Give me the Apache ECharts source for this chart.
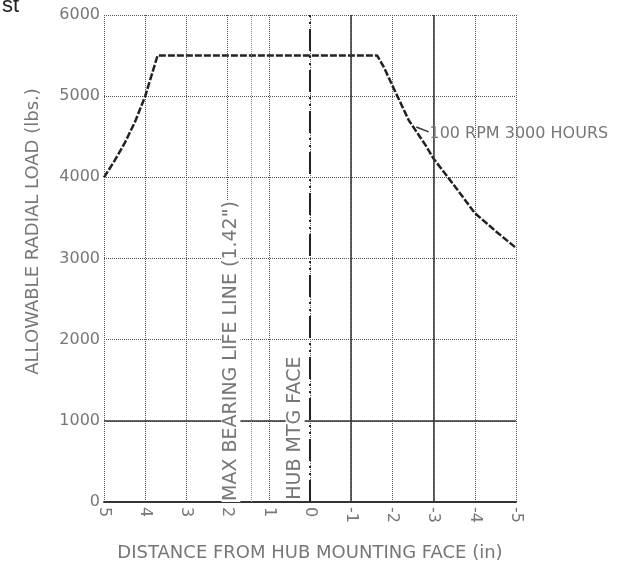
<!DOCTYPE html>
<html>
<head>
<meta charset="utf-8">
<script src="https://cdn.jsdelivr.net/npm/echarts@6/dist/echarts.min.js"></script>
<style>
html,body{margin:0;padding:0;background:#fff;}
#chart{width:639px;height:567px;}
</style>
</head>
<body>
<div id="chart"></div>
<script>
// ---- data ----
const distance = [5, 4.75, 4.5, 4.25, 4, 3.85, 3.7, -1.63, -1.8, -2, -2.4, -2.8, -3, -3.5, -4, -4.5, -5];
const radialLoad = [4000, 4200, 4420, 4680, 5000, 5250, 5500, 5500, 5350, 5130, 4700, 4400, 4230, 3900, 3560, 3340, 3130];
const curveName = '100 RPM 3000 HOURS';
const hubFaceX = 0;
const maxBearingX = 1.42;
const solidVerticals = [-1, -3];
const solidHorizontal = 1000;
const xTicks = [5, 4, 3, 2, 1, 0, -1, -2, -3, -4, -5];
const yTicks = [0, 1000, 2000, 3000, 4000, 5000, 6000];

const txt = '#777';
const font = 'DejaVu Sans';

const chart = echarts.init(document.getElementById('chart'));
chart.setOption({
  animation: false,
  backgroundColor: '#fff',
  graphic: [{
    type: 'text', left: 2, top: -5,
    style: { text: 'st', fontSize: 22, fontFamily: 'Liberation Sans', fill: '#222' }
  }],
  grid: { left: 104, right: 123, top: 15, bottom: 60, containLabel: false },
  xAxis: {
    type: 'value', min: -5, max: 5, interval: 1, inverse: true,
    name: 'DISTANCE FROM HUB MOUNTING FACE (in)',
    nameLocation: 'middle', nameGap: 42,
    nameTextStyle: { color: txt, fontSize: 18, fontFamily: font },
    axisLine: { show: true, onZero: false, lineStyle: { color: '#333', width: 2 } },
    axisTick: { show: false },
    axisLabel: { rotate: -90, color: txt, fontSize: 16, fontFamily: font, margin: 5,
      formatter: v => xTicks.includes(v) ? String(v) : '' },
    splitLine: { show: true, lineStyle: { color: '#555', type: 'dotted', width: 1 } }
  },
  yAxis: {
    type: 'value', min: 0, max: 6000, interval: 1000,
    name: 'ALLOWABLE RADIAL LOAD (lbs.)',
    nameLocation: 'middle', nameGap: 62, nameRotate: 90,
    nameTextStyle: { color: txt, fontSize: 18, fontFamily: font, padding: [0, 0, 0, 54] },
    axisLine: { show: false },
    axisTick: { show: false },
    axisLabel: { color: txt, fontSize: 16, fontFamily: font, margin: 4,
      formatter: v => yTicks.includes(v) ? String(v) : '' },
    splitLine: { show: true, lineStyle: { color: '#555', type: 'dotted', width: 1 } }
  },
  series: [
    {
      type: 'line', name: 'refs', data: [], silent: true,
      markLine: {
        symbol: 'none', silent: true, label: { show: false },
        data: [
          ...solidVerticals.map(v => ({ xAxis: v, lineStyle: { color: '#333', width: 1.5, type: 'solid' } })),
          { yAxis: solidHorizontal, lineStyle: { color: '#333', width: 1.5, type: 'solid' } },
          { xAxis: maxBearingX, lineStyle: { color: '#888', width: 1, type: 'dotted' } },
          { xAxis: hubFaceX, lineStyle: { color: '#222', width: 2, type: [22, 5, 2, 5, 2, 5] } }
        ]
      },
      markPoint: {
        symbol: 'circle', symbolSize: 0, silent: true,
        data: [
          { coord: [1.92, 1860], label: { show: true, position: 'inside', rotate: 90, formatter: 'MAX BEARING LIFE LINE (1.42")', color: txt, fontSize: 19, fontFamily: font, backgroundColor: '#fff', padding: [0, 1] } },
          { coord: [0.36, 910], label: { show: true, position: 'inside', rotate: 90, formatter: 'HUB MTG FACE', color: txt, fontSize: 19, fontFamily: font, backgroundColor: '#fff', padding: [0, 1] } },
          { coord: [-2.9, 4540], label: { show: true, position: 'right', distance: 0, formatter: curveName, color: txt, fontSize: 16, fontFamily: font } }
        ]
      }
    },
    {
      type: 'line', name: curveName,
      data: distance.map((d, i) => [d, radialLoad[i]]),
      showSymbol: false, symbol: 'none',
      lineStyle: { color: '#222', width: 2.5, type: [7, 2] },
      markLine: {
        symbol: 'none', silent: true, label: { show: false },
        lineStyle: { color: '#333', width: 1.5, type: 'solid' },
        data: [[{ coord: [-2.58, 4620] }, { coord: [-2.88, 4560] }]]
      }
    }
  ]
});
</script>
</body>
</html>
